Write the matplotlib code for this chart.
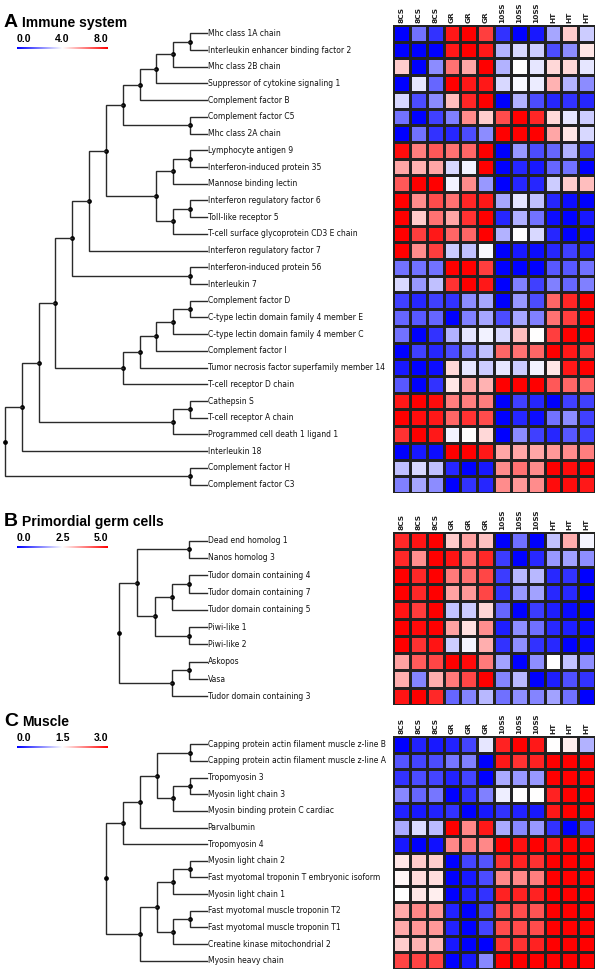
import numpy as np
import matplotlib
matplotlib.use("Agg")
import matplotlib.pyplot as plt
from matplotlib.colors import LinearSegmentedColormap
from matplotlib.transforms import offset_copy

W, H = 600, 972
fig = plt.figure(figsize=(W / 100, H / 100), dpi=100)

cmap = LinearSegmentedColormap.from_list("bwr_hm", [(0, 0, 1), (1, 1, 1), (1, 0, 0)])

samples = ["8CS", "8CS", "8CS", "GR", "GR", "GR", "10SS", "10SS", "10SS", "HT", "HT", "HT"]

# ---------------- panel A : immune system ----------------
genes_a = ["Mhc class 1A chain", "Interleukin enhancer binding factor 2", "Mhc class 2B chain",
           "Suppressor of cytokine signaling 1", "Complement factor B", "Complement factor C5",
           "Mhc class 2A chain", "Lymphocyte antigen 9", "Interferon-induced protein 35",
           "Mannose binding lectin", "Interferon regulatory factor 6", "Toll-like receptor 5",
           "T-cell surface glycoprotein CD3 E chain", "Interferon regulatory factor 7",
           "Interferon-induced protein 56", "Interleukin 7", "Complement factor D",
           "C-type lectin domain family 4 member E", "C-type lectin domain family 4 member C",
           "Complement factor I", "Tumor necrosis factor superfamily member 14",
           "T-cell receptor D chain", "Cathepsin S", "T-cell receptor A chain",
           "Programmed cell death 1 ligand 1", "Interleukin 18", "Complement factor H",
           "Complement factor C3"]
expr_a = [
    [0.0, 1.8, 0.8, 7.6, 8.0, 7.0, 0.8, 0.0, 0.4, 2.6, 4.8, 3.2],
    [0.0, 0.0, 0.0, 7.6, 8.0, 7.6, 2.8, 3.4, 3.2, 1.2, 2.2, 4.4],
    [4.8, 0.0, 2.2, 6.2, 5.4, 8.0, 2.8, 4.0, 3.6, 4.6, 4.6, 3.6],
    [0.0, 3.6, 1.6, 8.0, 7.6, 7.6, 3.4, 3.9, 3.7, 5.2, 2.8, 2.2],
    [3.4, 1.2, 2.2, 5.0, 7.4, 8.0, 0.0, 2.8, 1.2, 0.6, 0.8, 0.6],
    [1.8, 0.0, 1.0, 2.0, 5.8, 4.8, 6.8, 8.0, 7.4, 4.6, 3.6, 3.2],
    [0.0, 1.8, 0.8, 0.6, 1.2, 2.2, 8.0, 8.0, 8.0, 5.4, 4.4, 3.4],
    [7.8, 6.0, 6.6, 6.2, 6.4, 8.0, 0.0, 2.4, 1.2, 1.6, 2.8, 1.0],
    [5.4, 5.2, 5.4, 3.4, 3.8, 8.0, 0.0, 0.6, 0.4, 1.6, 1.8, 0.0],
    [6.6, 8.0, 8.0, 3.8, 5.8, 2.4, 0.0, 0.6, 0.6, 3.2, 4.8, 5.0],
    [8.0, 5.8, 6.8, 6.2, 7.4, 7.6, 2.6, 3.6, 3.0, 0.6, 0.2, 0.0],
    [8.0, 4.8, 6.2, 5.4, 7.2, 8.0, 0.6, 2.8, 1.8, 0.2, 0.0, 0.4],
    [8.0, 7.0, 7.6, 6.4, 6.4, 8.0, 2.8, 4.0, 3.4, 0.6, 0.0, 0.2],
    [8.0, 5.8, 7.0, 3.2, 3.0, 3.9, 0.0, 0.4, 0.2, 0.6, 1.0, 0.6],
    [1.8, 1.8, 1.8, 8.0, 8.0, 7.0, 0.0, 0.0, 0.0, 1.4, 1.4, 1.8],
    [3.4, 2.4, 3.0, 7.2, 8.0, 7.6, 0.0, 2.0, 1.0, 2.0, 1.6, 2.0],
    [1.0, 0.6, 1.0, 0.8, 2.2, 2.6, 0.0, 2.4, 1.2, 6.4, 7.4, 8.0],
    [1.6, 1.4, 1.6, 0.0, 2.0, 2.6, 1.2, 2.6, 2.0, 6.2, 7.0, 8.0],
    [1.8, 0.0, 0.8, 2.8, 3.6, 3.8, 3.4, 5.0, 4.0, 7.0, 8.0, 8.0],
    [0.0, 1.0, 0.6, 1.2, 2.2, 3.0, 6.4, 6.2, 6.4, 8.0, 7.6, 7.2],
    [0.4, 0.0, 0.2, 4.6, 3.6, 3.2, 3.6, 3.2, 3.8, 4.4, 7.6, 8.0],
    [1.4, 0.0, 0.8, 4.4, 5.4, 5.2, 8.0, 8.0, 8.0, 6.6, 6.4, 6.4],
    [7.6, 8.0, 7.8, 6.0, 6.0, 6.0, 0.0, 1.0, 0.6, 0.0, 1.0, 1.0],
    [8.0, 7.8, 7.6, 6.4, 7.2, 6.8, 0.0, 0.6, 0.2, 1.8, 2.2, 1.0],
    [7.2, 8.0, 7.6, 3.8, 4.0, 4.6, 0.0, 2.2, 1.0, 0.6, 1.4, 1.0],
    [0.0, 0.4, 0.2, 8.0, 8.0, 7.6, 5.4, 5.4, 5.4, 5.6, 5.8, 6.0],
    [3.0, 3.4, 3.0, 0.6, 0.0, 0.4, 5.8, 6.2, 5.8, 8.0, 7.8, 8.0],
    [2.0, 2.6, 2.2, 0.0, 0.8, 0.6, 5.8, 5.6, 5.8, 7.8, 7.8, 7.6],
]
# merges: (child, child, height); new node ids continue after the leaves
tree_a = [(0, 1, 1), (28, 2, 2), (29, 3, 3), (30, 4, 4), (5, 6, 1), (31, 32, 5),
          (7, 8, 1), (34, 9, 2), (10, 11, 1), (36, 12, 2), (35, 37, 3), (33, 38, 6),
          (39, 13, 7), (14, 15, 1), (40, 41, 8), (16, 17, 1), (43, 18, 2), (44, 19, 3),
          (45, 20, 4), (46, 21, 5), (42, 47, 9), (22, 23, 1), (49, 24, 2), (48, 50, 10),
          (51, 25, 11), (26, 27, 1), (52, 53, 12)]

# ---------------- panel B : primordial germ cells ----------------
genes_b = ["Dead end homolog 1", "Nanos homolog 3", "Tudor domain containing 4",
           "Tudor domain containing 7", "Tudor domain containing 5", "Piwi-like 1",
           "Piwi-like 2", "Askopos", "Vasa", "Tudor domain containing 3"]
expr_b = [
    [4.6, 4.8, 5.0, 3.0, 3.4, 3.1, 0.0, 1.1, 0.0, 1.9, 3.3, 2.4],
    [4.6, 3.6, 5.0, 4.8, 3.9, 4.6, 0.6, 0.0, 0.4, 1.5, 1.6, 1.4],
    [5.0, 4.6, 5.0, 3.8, 3.9, 4.3, 0.6, 1.8, 1.8, 0.4, 0.5, 0.0],
    [5.0, 4.6, 5.0, 3.4, 3.5, 4.3, 0.5, 1.5, 1.6, 0.4, 0.4, 0.0],
    [4.8, 4.4, 5.0, 1.9, 2.0, 2.9, 1.0, 0.0, 0.6, 0.3, 0.1, 0.0],
    [5.0, 4.9, 5.0, 3.4, 2.8, 3.6, 0.3, 1.4, 1.1, 0.4, 0.3, 0.1],
    [5.0, 4.5, 4.8, 2.0, 2.4, 3.3, 0.5, 1.4, 0.5, 0.4, 0.0, 0.1],
    [3.4, 4.1, 4.3, 5.0, 4.9, 3.8, 1.6, 0.0, 1.4, 2.5, 1.9, 1.4],
    [3.3, 1.3, 3.3, 3.8, 4.3, 5.0, 1.3, 1.8, 0.0, 0.3, 0.8, 0.5],
    [4.8, 5.0, 4.6, 1.0, 1.3, 1.8, 1.1, 1.4, 1.3, 1.6, 1.1, 0.0],
]
tree_b = [(0, 1, 1), (2, 3, 1), (11, 4, 2), (5, 6, 1), (12, 13, 3), (10, 14, 4),
          (7, 8, 1), (16, 9, 2), (15, 17, 5)]

# ---------------- panel C : muscle ----------------
genes_c = ["Capping protein actin filament muscle z-line B",
           "Capping protein actin filament muscle z-line A", "Tropomyosin 3",
           "Myosin light chain 3", "Myosin binding protein C cardiac", "Parvalbumin",
           "Tropomyosin 4", "Myosin light chain 2", "Fast myotomal troponin T embryonic isoform",
           "Myosin light chain 1", "Fast myotomal muscle troponin T2",
           "Fast myotomal muscle troponin T1", "Creatine kinase mitochondrial 2",
           "Myosin heavy chain"]
expr_c = [
    [0.0, 0.2, 0.15, 0.2, 0.4, 1.35, 2.8, 3.0, 2.85, 1.5, 1.6, 1.05],
    [0.5, 0.4, 0.45, 0.7, 0.75, 0.0, 2.85, 2.7, 2.8, 3.0, 3.0, 3.0],
    [0.3, 0.45, 0.4, 0.2, 0.4, 0.0, 1.0, 0.9, 0.9, 3.0, 3.0, 3.0],
    [0.8, 0.6, 0.7, 0.0, 0.3, 0.75, 1.4, 1.5, 1.5, 2.8, 3.0, 3.0],
    [0.2, 0.15, 0.2, 0.3, 0.0, 0.15, 0.3, 0.2, 0.15, 2.85, 3.0, 3.0],
    [1.0, 1.3, 1.1, 3.0, 2.2, 2.85, 1.0, 0.8, 0.9, 0.3, 0.0, 0.4],
    [0.15, 0.0, 0.1, 2.2, 2.25, 2.2, 3.0, 2.9, 3.0, 2.85, 3.0, 3.0],
    [1.65, 1.8, 1.8, 0.0, 0.4, 0.5, 2.7, 2.8, 2.7, 3.0, 3.0, 3.0],
    [1.55, 1.7, 1.7, 0.0, 0.15, 0.45, 2.2, 2.2, 2.25, 3.0, 3.0, 3.0],
    [1.5, 1.65, 1.6, 0.0, 0.2, 0.3, 2.8, 2.8, 2.8, 3.0, 3.0, 3.0],
    [2.0, 2.2, 2.1, 0.2, 0.0, 0.4, 2.55, 2.55, 2.5, 3.0, 3.0, 3.0],
    [2.0, 2.1, 2.1, 0.2, 0.0, 0.4, 2.55, 2.55, 2.55, 3.0, 3.0, 3.0],
    [1.8, 1.95, 1.9, 0.15, 0.0, 0.0, 2.7, 2.7, 2.8, 3.0, 3.0, 3.0],
    [2.6, 2.6, 2.6, 0.0, 0.15, 0.8, 3.0, 3.0, 3.0, 3.0, 3.0, 3.0],
]
tree_c = [(0, 1, 1), (2, 3, 1), (15, 4, 2), (14, 16, 3), (17, 5, 4), (18, 6, 5),
          (7, 8, 1), (20, 9, 2), (10, 11, 1), (22, 12, 2), (21, 23, 3), (24, 13, 4),
          (19, 25, 6)]

panels = [
    # letter, title, genes, values, tree, vmax, heatmap top/bottom px, tree step px, title baseline px
    ("A", "Immune system", genes_a, expr_a, tree_a, 8.0, 25, 493, 16.85, 27),
    ("B", "Primordial germ cells", genes_b, expr_b, tree_b, 5.0, 532, 705, 17.5, 526),
    ("C", "Muscle", genes_c, expr_c, tree_c, 3.0, 736, 969, 16.8, 726),
]


def px_axes(x0, y0, x1, y1):
    return fig.add_axes([x0 / W, 1 - y1 / H, (x1 - x0) / W, (y1 - y0) / H])


HX0, HX1 = 393, 595
LEAF_X = 207

for letter, title, genes, vals, tree, vmax, top, bot, step, tbase in panels:
    vals = np.array(vals)
    n = len(genes)

    # heatmap
    axh = px_axes(HX0, top, HX1, bot)
    axh.pcolormesh(vals, cmap=cmap, vmin=0, vmax=vmax, edgecolors="#222222", linewidth=0.8)
    axh.set_xlim(0, vals.shape[1])
    axh.set_ylim(n, 0)
    axh.axis("off")
    tr = offset_copy(axh.get_xaxis_transform(), fig=fig, y=2, units="dots")
    for j, s in enumerate(samples):
        axh.text(j + 0.5, 1.0, s, transform=tr, rotation=90, ha="center", va="bottom",
                 fontsize=5.3, fontweight="bold", color="#222222")

    # dendrogram
    hmax = max(m[2] for m in tree)
    axd = px_axes(LEAF_X - (hmax + 0.3) * step, top, LEAF_X, bot)
    axd.set_xlim(hmax + 0.3, 0)
    axd.set_ylim(n - 0.5, -0.5)
    axd.axis("off")
    pos = {i: (0.0, float(i)) for i in range(n)}
    for k, (a, b, h) in enumerate(tree):
        xa, ya = pos[a]
        xb, yb = pos[b]
        axd.plot([xa, h, h, xb], [ya, ya, yb, yb], color="#2a2a2a", lw=1.0,
                 solid_joinstyle="miter", clip_on=False)
        ym = (ya + yb) / 2
        axd.plot(h, ym, "o", ms=2.4, color="black", clip_on=False)
        pos[n + k] = (h, ym)
    for i, g in enumerate(genes):
        axd.text(-0.03, i, g, ha="left", va="center", fontsize=5.5, color="#111111")

    # titles
    fig.text(4 / W, 1 - tbase / H, letter, fontsize=14, fontweight="bold",
             family="Liberation Sans", va="baseline")
    fig.text(22 / W, 1 - tbase / H, title, fontsize=10, fontweight="bold",
             family="Liberation Sans", va="baseline")

    # colour key
    axc = px_axes(17, tbase + 20, 108, tbase + 22.5)
    axc.imshow(np.linspace(0, vmax, 256)[None, :], cmap=cmap, aspect="auto",
               extent=(0, vmax, 0, 1))
    axc.axis("off")
    for v, ha in [(0.0, "left"), (vmax / 2, "center"), (vmax, "right")]:
        axc.text(v, 1.0, "%.1f" % v, transform=offset_copy(axc.transData, fig=fig, y=3, units="dots"),
                 ha=ha, va="bottom", fontsize=7.5, fontweight="bold", family="Liberation Sans")

fig.savefig("out.png", dpi=100, facecolor="white")
